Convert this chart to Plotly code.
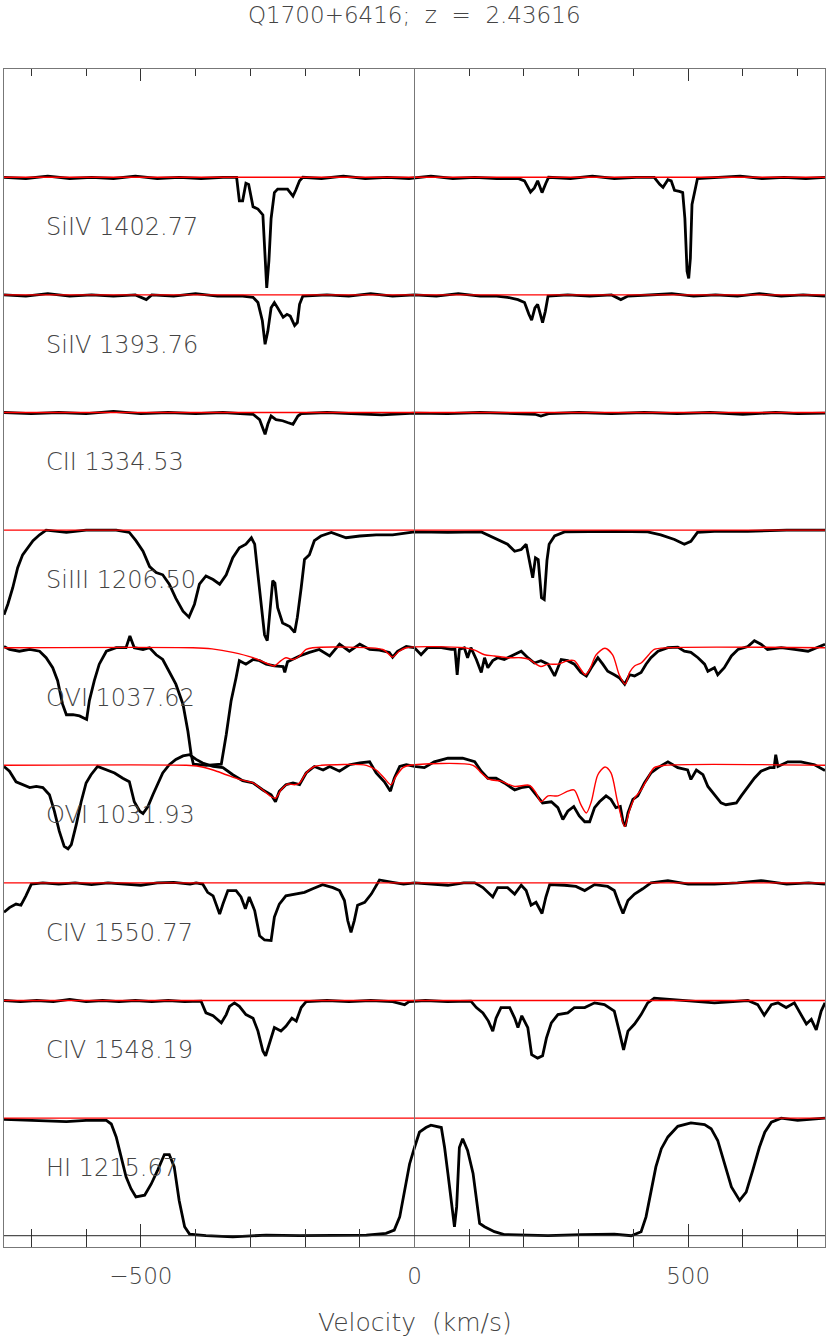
import plotly.graph_objects as go

# velocity (km/s), normalised flux
hi_1215 = [(-750,0.99),(-697,0.98),(-636,0.97),(-600,0.98),(-563,0.98),(-554,0.95),(-545,0.84),(-536,0.67),(-527,0.50),(-518,0.40),(-509,0.33),(-493,0.345),(-481,0.44),(-469,0.56),(-457,0.69),(-448,0.69),(-439,0.585),(-430,0.30),(-420,0.076),(-411,0.014),(-381,0.0),(-332,-0.01),(-271,0.005),(-210,0.0),(-149,0.005),(-88,0.005),(-52,0.02),(-37,0.048),(-27,0.16),(-18,0.39),(-9,0.61),(0,0.75),(9,0.88),(21,0.92),(30,0.94),(49,0.92),(55,0.75),(61,0.53),(67,0.30),(73,0.076),(77,0.245),(82,0.75),(88,0.825),(97,0.725),(107,0.53),(113,0.30),(119,0.105),(128,0.076),(146,0.034),(164,0.01),(244,0.0),(304,0.01),(365,0.014),(396,0.0),(414,0.034),(423,0.16),(432,0.36),(441,0.585),(451,0.74),(463,0.84),(481,0.93),(505,0.96),(530,0.945),(542,0.91),(554,0.81),(566,0.61),(579,0.415),(594,0.30),(606,0.37),(618,0.555),(630,0.75),(640,0.88),(652,0.965),(670,1.0),(700,0.98),(750,1.0)]

civ_1548 = [(-750,1.0),(-720,0.99),(-690,1.0),(-660,0.99),(-630,1.01),(-600,0.99),(-570,1.0),(-540,0.99),(-510,1.0),(-480,0.99),(-450,1.0),(-420,0.99),(-390,0.995),(-381,0.895),(-368,0.87),(-353,0.81),(-344,0.88),(-338,0.95),(-329,0.98),(-320,0.95),(-308,0.88),(-295,0.85),(-286,0.74),(-277,0.57),(-272,0.53),(-265,0.64),(-256,0.77),(-244,0.74),(-235,0.78),(-224,0.85),(-216,0.825),(-207,0.94),(-198,0.99),(-160,1.0),(-120,0.99),(-80,1.0),(-40,0.99),(-18,0.965),(-10,0.99),(20,1.0),(60,0.99),(103,0.995),(113,0.94),(125,0.895),(135,0.825),(143,0.74),(149,0.85),(158,0.94),(174,0.94),(183,0.85),(189,0.77),(196,0.87),(207,0.77),(214,0.54),(225,0.51),(234,0.53),(241,0.68),(250,0.81),(262,0.88),(280,0.895),(292,0.94),(311,0.94),(329,0.98),(347,0.965),(365,0.91),(374,0.74),(382,0.58),(390,0.74),(402,0.80),(414,0.88),(426,0.98),(438,1.02),(487,1.0),(548,0.98),(609,1.0),(627,0.965),(639,0.875),(652,0.965),(664,0.98),(679,0.94),(694,0.98),(706,0.88),(716,0.80),(725,0.84),(734,0.75),(743,0.91),(750,0.98)]

civ_1550 = [(-750,0.75),(-740,0.79),(-728,0.82),(-719,0.81),(-710,0.89),(-700,0.99),(-679,1.0),(-650,0.99),(-620,1.0),(-590,0.985),(-560,1.0),(-530,0.99),(-500,0.98),(-470,1.0),(-440,1.005),(-410,0.99),(-399,1.0),(-387,0.99),(-378,0.92),(-368,0.89),(-356,0.735),(-350,0.82),(-341,0.935),(-326,0.935),(-317,0.88),(-309,0.78),(-302,0.88),(-292,0.765),(-283,0.55),(-274,0.515),(-262,0.51),(-256,0.71),(-247,0.82),(-235,0.89),(-219,0.905),(-201,0.92),(-186,0.95),(-168,0.985),(-149,0.96),(-137,0.935),(-128,0.85),(-122,0.68),(-116,0.58),(-110,0.68),(-104,0.81),(-91,0.835),(-79,0.905),(-64,1.025),(-40,1.005),(-20,0.99),(0,1.0),(30,0.99),(61,0.98),(90,1.0),(110,1.0),(125,0.96),(134,0.92),(143,0.88),(152,0.96),(170,0.96),(183,0.905),(195,0.98),(204,0.935),(213,0.81),(222,0.835),(233,0.74),(240,0.88),(247,0.985),(274,0.98),(295,0.97),(311,0.935),(329,0.985),(353,0.97),(365,0.935),(374,0.82),(381,0.74),(390,0.85),(402,0.905),(417,0.95),(432,1.0),(463,1.02),(500,0.99),(548,0.99),(590,1.0),(633,1.02),(680,0.99),(720,1.0),(750,0.99)]

ovi_1031 = [(-750,0.99),(-740,0.95),(-728,0.86),(-716,0.835),(-703,0.81),(-691,0.82),(-679,0.81),(-667,0.75),(-658,0.61),(-649,0.44),(-640,0.31),(-633,0.29),(-627,0.325),(-618,0.495),(-609,0.69),(-600,0.85),(-591,0.92),(-579,0.99),(-563,0.96),(-548,0.935),(-533,0.89),(-521,0.86),(-512,0.69),(-502,0.61),(-496,0.59),(-487,0.65),(-478,0.75),(-469,0.85),(-460,0.935),(-448,1.005),(-436,1.05),(-423,1.08),(-411,1.09),(-399,1.05),(-387,1.02),(-368,0.99),(-350,0.98),(-332,0.92),(-314,0.87),(-295,0.85),(-277,0.79),(-262,0.75),(-254,0.69),(-247,0.78),(-235,0.835),(-222,0.85),(-210,0.835),(-198,0.935),(-183,0.99),(-167,0.96),(-155,0.99),(-137,0.95),(-119,1.005),(-100,1.02),(-82,1.03),(-70,0.935),(-55,0.86),(-44,0.78),(-37,0.89),(-27,0.99),(-15,1.005),(0,0.99),(18,0.98),(36,1.03),(61,1.06),(88,1.06),(110,1.03),(122,0.95),(134,0.89),(149,0.89),(164,0.85),(183,0.79),(195,0.81),(210,0.82),(222,0.75),(234,0.68),(250,0.69),(262,0.64),(271,0.54),(280,0.61),(291,0.65),(301,0.57),(311,0.52),(320,0.52),(329,0.64),(338,0.69),(350,0.74),(359,0.71),(368,0.64),(376,0.65),(381,0.52),(385,0.48),(390,0.595),(399,0.71),(408,0.74),(420,0.85),(432,0.935),(445,0.98),(463,1.03),(481,0.98),(499,0.96),(505,0.88),(515,0.96),(527,0.92),(536,0.82),(548,0.75),(560,0.68),(569,0.665),(588,0.68),(597,0.74),(609,0.82),(621,0.89),(633,0.95),(649,0.98),(657,0.98),(660,1.09),(664,0.99),(682,1.03),(706,1.03),(731,1.005),(750,0.955)]

ovi_1031_fit = [(-750,1.0),(-417,1.0),(-393,0.99),(-368,0.96),(-344,0.92),(-320,0.88),(-295,0.85),(-277,0.79),(-264,0.74),(-254,0.72),(-244,0.79),(-232,0.84),(-219,0.835),(-210,0.85),(-198,0.935),(-183,0.99),(-170,1.0),(-88,1.0),(-70,0.96),(-55,0.89),(-43,0.835),(-34,0.905),(-21,0.98),(-9,1.0),(107,1.0),(122,0.935),(137,0.88),(158,0.865),(183,0.82),(210,0.83),(222,0.765),(231,0.69),(244,0.74),(262,0.74),(280,0.78),(292,0.79),(304,0.665),(314,0.595),(323,0.69),(335,0.92),(348,0.985),(359,0.935),(371,0.69),(384,0.48),(393,0.62),(402,0.72),(414,0.79),(426,0.89),(438,0.98),(457,1.0),(750,1.0)]

ovi_1037 = [(-750,1.01),(-740,0.985),(-722,0.97),(-703,0.985),(-685,0.97),(-673,0.915),(-661,0.83),(-652,0.72),(-643,0.52),(-636,0.43),(-624,0.43),(-612,0.42),(-599,0.39),(-594,0.55),(-585,0.72),(-576,0.86),(-563,0.97),(-545,1.0),(-527,1.0),(-520,1.10),(-512,1.0),(-496,0.985),(-484,1.0),(-472,0.94),(-460,0.90),(-448,0.80),(-436,0.69),(-423,0.52),(-414,0.29),(-408,0.09),(-404,0.01),(-380,0.0),(-353,0.01),(-344,0.26),(-335,0.55),(-326,0.745),(-320,0.89),(-308,0.86),(-295,0.90),(-283,0.89),(-271,0.86),(-256,0.845),(-240,0.84),(-237,0.79),(-232,0.88),(-228,0.89),(-210,0.93),(-192,0.96),(-174,0.985),(-155,0.93),(-137,1.03),(-119,0.97),(-100,1.03),(-82,0.985),(-64,0.98),(-46,0.96),(-40,0.92),(-31,0.97),(-15,1.01),(0,1.0),(12,0.94),(24,1.0),(49,1.0),(67,0.985),(74,0.985),(78,0.77),(82,0.985),(91,1.0),(97,0.915),(103,1.0),(113,0.90),(122,0.79),(128,0.915),(134,0.83),(143,0.89),(152,0.915),(164,0.90),(177,0.93),(195,0.97),(207,0.915),(219,0.87),(231,0.89),(244,0.86),(256,0.76),(268,0.90),(280,0.89),(292,0.86),(304,0.79),(314,0.76),(323,0.83),(335,0.915),(344,0.86),(353,0.80),(365,0.77),(374,0.745),(384,0.69),(393,0.77),(402,0.76),(414,0.79),(423,0.86),(432,0.915),(445,0.97),(463,1.0),(481,1.005),(493,0.97),(505,0.96),(518,0.915),(530,0.86),(536,0.80),(548,0.83),(554,0.77),(566,0.83),(579,0.93),(591,0.985),(609,1.01),(621,1.06),(633,1.03),(645,0.985),(670,1.0),(694,0.985),(719,0.97),(750,1.03)]

ovi_1037_fit = [(-750,1.0),(-405,1.0),(-370,0.99),(-332,0.96),(-295,0.915),(-271,0.87),(-256,0.845),(-244,0.89),(-235,0.915),(-222,0.90),(-210,0.93),(-198,0.985),(-186,1.0),(-58,0.985),(-48,0.95),(-40,0.92),(-28,0.97),(-15,1.0),(91,1.0),(110,0.98),(128,0.94),(146,0.93),(170,0.915),(195,0.915),(210,0.90),(222,0.86),(231,0.84),(244,0.86),(262,0.86),(280,0.89),(292,0.89),(304,0.815),(312,0.77),(320,0.815),(332,0.94),(348,0.995),(362,0.94),(374,0.77),(385,0.69),(393,0.79),(402,0.845),(414,0.87),(426,0.93),(438,0.985),(463,1.0),(750,1.0)]

siiii_1206 = [(-750,0.28),(-743,0.37),(-734,0.51),(-725,0.68),(-716,0.79),(-706,0.85),(-697,0.91),(-685,0.96),(-673,1.0),(-636,0.98),(-600,1.0),(-545,1.0),(-521,0.98),(-509,0.91),(-496,0.82),(-484,0.69),(-472,0.64),(-460,0.62),(-448,0.54),(-436,0.42),(-423,0.31),(-412,0.26),(-402,0.37),(-393,0.54),(-381,0.61),(-368,0.58),(-356,0.54),(-344,0.62),(-332,0.765),(-320,0.85),(-308,0.88),(-298,0.935),(-292,0.88),(-286,0.62),(-280,0.34),(-274,0.11),(-269,0.06),(-265,0.28),(-259,0.57),(-255,0.55),(-250,0.34),(-241,0.21),(-228,0.18),(-219,0.13),(-214,0.26),(-207,0.51),(-201,0.75),(-192,0.79),(-183,0.91),(-171,0.95),(-152,0.98),(-125,0.935),(-100,0.95),(-70,0.96),(-40,0.96),(0,0.985),(61,0.98),(122,0.985),(137,0.95),(152,0.92),(170,0.88),(183,0.82),(195,0.835),(204,0.88),(210,0.74),(216,0.595),(221,0.765),(226,0.75),(232,0.425),(237,0.41),(242,0.74),(246,0.88),(256,0.95),(274,0.985),(365,0.99),(426,0.985),(450,0.96),(475,0.92),(493,0.88),(505,0.905),(517,0.98),(548,0.99),(609,0.99),(680,1.0),(750,1.0)]

cii_1334 = [(-750,1.0),(-700,0.99),(-650,1.0),(-600,0.99),(-550,1.01),(-500,0.99),(-450,1.0),(-400,0.99),(-350,1.0),(-295,0.985),(-283,0.94),(-277,0.87),(-273,0.815),(-268,0.90),(-262,0.97),(-253,0.94),(-241,0.93),(-232,0.915),(-222,0.90),(-213,0.97),(-207,0.99),(-160,1.0),(-110,0.99),(-60,0.98),(0,0.995),(60,0.99),(120,1.0),(180,0.99),(220,0.985),(231,0.97),(245,0.99),(300,1.0),(360,0.99),(420,1.0),(480,0.99),(540,1.0),(600,0.985),(660,1.0),(700,0.99),(750,0.995)]

siiv_1393 = [(-750,1.0),(-710,0.99),(-670,1.01),(-630,0.99),(-590,1.0),(-550,0.99),(-510,1.0),(-490,0.96),(-480,1.0),(-440,0.99),(-400,1.01),(-360,0.99),(-314,0.99),(-295,0.98),(-286,0.935),(-278,0.78),(-273,0.58),(-268,0.69),(-262,0.89),(-256,0.935),(-250,0.89),(-240,0.81),(-233,0.835),(-227,0.82),(-219,0.74),(-214,0.765),(-210,0.92),(-204,0.99),(-160,1.0),(-120,0.99),(-80,1.01),(-40,0.99),(0,1.0),(40,0.99),(80,1.01),(120,0.99),(150,0.99),(170,0.98),(189,0.96),(201,0.935),(209,0.835),(214,0.785),(220,0.89),(225,0.92),(230,0.835),(234,0.765),(239,0.86),(244,0.99),(280,1.0),(320,0.99),(360,1.0),(377,0.96),(390,0.99),(430,1.0),(470,1.01),(510,0.99),(550,1.0),(590,0.99),(630,1.01),(670,0.99),(710,1.0),(750,0.99)]

siiv_1402 = [(-750,1.0),(-710,0.99),(-670,1.01),(-630,0.99),(-590,1.0),(-550,0.99),(-510,1.01),(-470,0.99),(-430,1.0),(-390,0.99),(-350,1.0),(-325,1.0),(-320,0.80),(-314,0.80),(-308,0.95),(-303,0.94),(-295,0.75),(-286,0.73),(-277,0.68),(-273,0.29),(-270,0.06),(-266,0.29),(-262,0.65),(-256,0.87),(-250,0.90),(-232,0.90),(-222,0.84),(-217,0.89),(-210,0.97),(-204,1.0),(-170,0.99),(-130,1.01),(-90,0.99),(-50,1.0),(-10,0.99),(30,1.01),(70,0.99),(110,1.0),(150,0.99),(189,0.99),(201,0.97),(212,0.875),(219,0.91),(225,0.97),(233,0.87),(240,0.95),(245,1.0),(285,0.99),(325,1.01),(365,0.99),(405,1.0),(438,1.0),(448,0.94),(454,0.915),(463,0.98),(469,0.97),(475,0.89),(484,0.88),(490,0.87),(494,0.65),(498,0.20),(501,0.14),(504,0.31),(507,0.77),(511,0.85),(517,0.99),(555,1.0),(595,1.01),(635,0.99),(675,1.0),(715,0.99),(750,1.0)]

# bottom to top, each panel shifted up by one flux unit
spectra = [hi_1215, civ_1548, civ_1550, ovi_1031, ovi_1037, siiii_1206, cii_1334, siiv_1393, siiv_1402]
fits = [None, None, None, ovi_1031_fit, ovi_1037_fit, None, None, None, None]
labels = ["HI 1215.67", "CIV 1548.19", "CIV 1550.77", "OVI 1031.93", "OVI 1037.62",
          "SiIII 1206.50", "CII 1334.53", "SiIV 1393.76", "SiIV 1402.77"]

FONT = "DejaVu Sans"
fig = go.Figure()

for k, spec in enumerate(spectra):
    v = [p[0] for p in spec]
    f = [p[1] + k for p in spec]
    fig.add_trace(go.Scatter(x=v, y=f, mode="lines", line=dict(color="black", width=2.8),
                             showlegend=False, hoverinfo="skip"))

for k, fit in enumerate(fits):
    if fit is None:
        fit = [(-750, 1.0), (750, 1.0)]
    fig.add_trace(go.Scatter(x=[p[0] for p in fit], y=[p[1] + k for p in fit], mode="lines",
                             line=dict(color="#ff0000", width=1.4, shape="spline", smoothing=0.8),
                             showlegend=False, hoverinfo="skip"))

# dummy trace so the top axis is drawn
fig.add_trace(go.Scatter(x=[0], y=[0], xaxis="x2", mode="markers", marker=dict(opacity=0),
                         showlegend=False, hoverinfo="skip"))

for k, lab in enumerate(labels):
    fig.add_annotation(x=0.0487, xref="paper", y=k + 0.575, yref="y", text=lab,
                       showarrow=False, xanchor="left", yanchor="middle",
                       font=dict(family=FONT, size=24, color="#444", weight=300))

fig.add_annotation(x=0.5, xref="paper", y=1.0459, yref="paper", text="Q1700+6416;  z  =  2.43616",
                   showarrow=False, xanchor="center", yanchor="middle",
                   font=dict(family=FONT, size=23, color="#444", weight=300))
fig.add_annotation(x=0.5, xref="paper", y=-0.0637, yref="paper", text="Velocity  (km/s)",
                   showarrow=False, xanchor="center", yanchor="middle",
                   font=dict(family=FONT, size=25, color="#444", weight=300))

# v = 0 marker and zero-flux line of the bottom panel
fig.add_shape(type="line", x0=0, x1=0, xref="x", y0=0, y1=1, yref="paper",
              line=dict(color="#777", width=1))
fig.add_shape(type="line", x0=-750, x1=750, xref="x", y0=0, y1=0, yref="y",
              line=dict(color="#222", width=1))

fig.update_layout(
    width=830, height=1337,
    margin=dict(l=4, r=5, t=69, b=90, autoexpand=False),
    plot_bgcolor="white", paper_bgcolor="white",
    xaxis=dict(range=[-750, 750], showgrid=False, zeroline=False, automargin=False,
               tickvals=[-500, 0, 500], ticks="inside", ticklen=23, tickcolor="#333",
               minor=dict(dtick=100, tick0=0, ticks="inside", ticklen=18, tickcolor="#333", showgrid=False),
               showline=True, linecolor="#777", linewidth=1,
               tickfont=dict(family=FONT, size=23, color="#444", weight=300),
               ticklabelstandoff=8),
    xaxis2=dict(range=[-750, 750], overlaying="x", side="top", showgrid=False, zeroline=False,
                automargin=False,
                tickvals=[-500, 0, 500], ticks="inside", ticklen=12, tickcolor="#333",
                minor=dict(dtick=100, tick0=0, ticks="inside", ticklen=7, tickcolor="#333", showgrid=False),
                showticklabels=False, showline=True, linecolor="#777", linewidth=1),
    yaxis=dict(range=[-0.096, 9.921], showgrid=False, zeroline=False, showticklabels=False,
               automargin=False,
               ticks="", showline=True, mirror=True, linecolor="#777", linewidth=1),
)

# drop the page's default body margin so the figure sits at the window origin
fig.write_html("out.html", config={"displayModeBar": False},
               post_script="document.body.style.margin='0';")
